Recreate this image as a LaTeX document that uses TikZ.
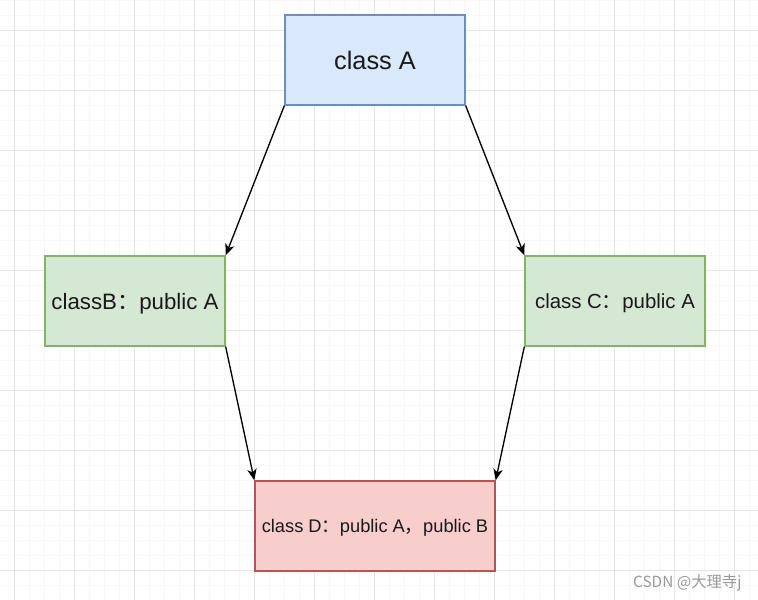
\documentclass[tikz,border=0pt]{standalone}
\usepackage{fontspec}
\setmainfont{Liberation Sans}
\newfontfamily\cjk{Noto Sans CJK SC}
\usetikzlibrary{arrows.meta}

\definecolor{blueFill}{RGB}{218,232,252}
\definecolor{blueLine}{RGB}{108,142,191}
\definecolor{greenFill}{RGB}{213,232,212}
\definecolor{greenLine}{RGB}{130,179,102}
\definecolor{redFill}{RGB}{248,206,204}
\definecolor{redLine}{RGB}{184,84,80}
\definecolor{gridMinor}{RGB}{247,247,247}
\definecolor{gridMajor}{RGB}{228,228,228}

\tikzset{every picture/.style={line width=0.75pt}}
\tikzset{
  classbox/.style={draw, rectangle, line width=1pt, minimum width=135pt, minimum height=67.5pt, inner sep=0pt, text depth=0pt, text=black!90},
  inherit/.style={line width=1pt, -{Stealth[length=8.5pt,width=7pt,inset=2.4pt]}},
}

\begin{document}
\begin{tikzpicture}[x=0.75pt,y=0.75pt,yscale=-1,xscale=1]
        \useasboundingbox (0,0) rectangle (758,600);
        \fill[white] (0,0) rectangle (758,600);
        %grid
        \foreach \gx in {-1,14,...,758} \draw[gridMinor] (\gx,0) -- (\gx,600);
        \foreach \gy in {0,15,...,600} \draw[gridMinor] (0,\gy) -- (758,\gy);
        \foreach \gx in {14,74,...,758} \draw[gridMajor] (\gx,0) -- (\gx,600);
        \foreach \gy in {30,90,...,600} \draw[gridMajor] (0,\gy) -- (758,\gy);
        %classes
        \node (classA) [classbox, draw=blueLine, fill=blueFill, font=\fontsize{19}{22}\selectfont] at (375,60) {class A};
        \node (classB) [classbox, draw=greenLine, fill=greenFill, font=\fontsize{16.7}{20}\selectfont] at (135,301) {classB{\cjk ：}public A};
        \node (classC) [classbox, draw=greenLine, fill=greenFill, font=\fontsize{15.3}{18}\selectfont] at (615,301) {class C{\cjk ：}public A};
        \node (classD) [classbox, minimum width=180pt, draw=redLine, fill=redFill, font=\fontsize{13.7}{16}\selectfont] at (375,526) {class D{\cjk ：}public A{\cjk ，}public B};
        %inheritance
        \draw [inherit] (classA.south west) -- (classB.north east);
        \draw [inherit] (classA.south east) -- (classC.north west);
        \draw [inherit] (classB.south east) -- (classD.north west);
        \draw [inherit] (classC.south west) -- (classD.north east);
        % Text Node
        \node (wm) [anchor=east, inner sep=0pt, text=black!40, font=\cjk\fontsize{11.5}{14}\selectfont] at (742,583) {CSDN @大理寺j};
\end{tikzpicture}
\end{document}
